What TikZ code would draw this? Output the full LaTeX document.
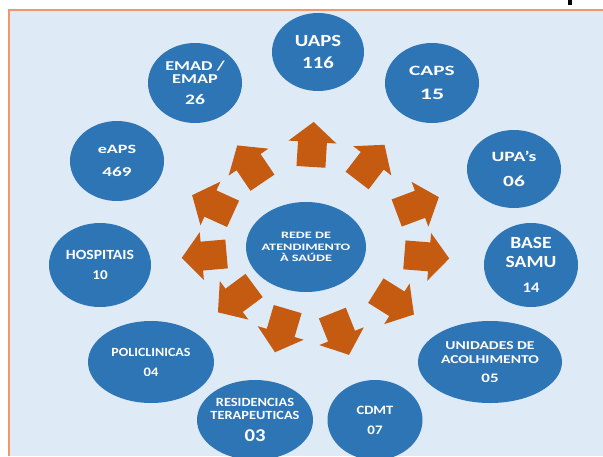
\documentclass[tikz,border=0pt]{standalone}
\usepackage{fontspec}
\newfontfamily\calib{Carlito}
\usetikzlibrary{calc,shapes.geometric,shapes.arrows}

\definecolor{azul}{RGB}{46,117,182}
\definecolor{laranja}{RGB}{197,90,17}
\definecolor{fundo}{RGB}{222,235,247}
\definecolor{moldura}{RGB}{240,150,105}
\newcommand{\tam}[2]{\fontsize{#1}{#2}\selectfont}

\begin{document}
\begin{tikzpicture}[x=1pt,y=-1pt,
  unidade/.style={ellipse,fill=azul,inner sep=0pt},
  rotulo/.style n args={3}{text=white,align=center,inner sep=0pt,
    font=\calib\bfseries\addfontfeature{FakeStretch=#3}\tam{#1}{#2}},
  seta/.style={single arrow,fill=laranja,inner xsep=0pt,inner ysep=13.5pt,minimum width=48pt,
    minimum height=45pt,single arrow head extend=9pt,single arrow tip angle=100}]
  \useasboundingbox (0,0) rectangle (603,456);

  % fundo e moldura
  \fill[fundo] (9,10) rectangle (603,456);
  \draw[moldura,line width=2pt] (9,456) -- (9,10) -- (603,10);
  \fill[black] (568,0) rectangle (572,5);

  % centro
  \node[unidade,minimum width=120,minimum height=90,
    label={[rotulo={9.8}{11.3}{1.45}]center:{REDE DE\\ATENDIMENTO\\À SAÚDE}}] (rede) at (306,247) {};

  % unidades
  \node[unidade,minimum width=92,minimum height=78,
    label={[rotulo={17}{17}{1.22}]center:{UAPS\\[5pt]116}}] (uaps) at (318,52) {};
  \node[unidade,minimum width=94,minimum height=80,
    label={[rotulo={13.5}{12.6}{1.35}]center:{EMAD /\\EMAP\\[9pt]\tam{14.5}{12.6}26}}] (emad) at (195,83) {};
  \node[unidade,minimum width=94,minimum height=80,
    label={[rotulo={12.7}{12.7}{1.43}]center:{eAPS\\[11pt]\tam{13.5}{12.7}469}}] (eaps) at (117,161) {};
  \node[unidade,minimum width=94,minimum height=80,
    label={[rotulo={14.2}{14.2}{1.5}]center:{CAPS\\[9.8pt]\tam{16}{14.2}15}}] (caps) at (432,83) {};
  \node[unidade,minimum width=94,minimum height=78,
    label={[rotulo={14.2}{14.2}{1.38}]center:{UPA’s\\[10.8pt]\tam{15.5}{14.2}06}}] (upas) at (514,169) {};
  \node[unidade,minimum width=94,minimum height=84,
    label={[rotulo={17}{18.3}{1.15}]center:{BASE\\SAMU\\[6.7pt]\tam{14.5}{18.3}14}}] (samu) at (531,265) {};
  \node[unidade,minimum width=144,minimum height=82,
    label={[rotulo={12}{14}{1.3}]center:{UNIDADES DE\\ACOLHIMENTO\\[5.3pt]\tam{13}{14}05}}] (acolh) at (490,362) {};
  \node[unidade,minimum width=95,minimum height=80,
    label={[rotulo={12.7}{12.7}{1.15}]center:{CDMT\\[7.3pt]\tam{13}{12.7}07}}] (cdmt) at (375,420) {};
  \node[unidade,minimum width=116,minimum height=80,
    label={[rotulo={12.5}{12.7}{1.15}]center:{RESIDENCIAS\\TERAPEUTICAS\\[8.7pt]\tam{18}{12.7}03}}] (resid) at (255,420) {};
  \node[unidade,minimum width=126,minimum height=82,
    label={[rotulo={12.5}{12.5}{1.12}]center:{POLICLINICAS\\[7.5pt]\tam{13}{12.5}04}}] (polic) at (151,362) {};
  \node[unidade,minimum width=102,minimum height=84,
    label={[rotulo={14}{14}{1.12}]center:{HOSPITAIS\\[6pt]\tam{13.5}{14}10}}] (hosp) at (100,265) {};

  % setas
  \foreach \alvo/\f in {uaps/0.495,emad/0.475,eaps/0.465,caps/0.485,upas/0.51,samu/0.51,
      acolh/0.455,cdmt/0.47,resid/0.45,polic/0.42,hosp/0.465}
    \path let \p1=($(\alvo)-(rede)$), \n1={atan2(\y1,\x1)} in
      node[seta,rotate=\n1] (s-\alvo) at ($(rede)!\f!(\alvo)$) {};
\end{tikzpicture}
\end{document}
